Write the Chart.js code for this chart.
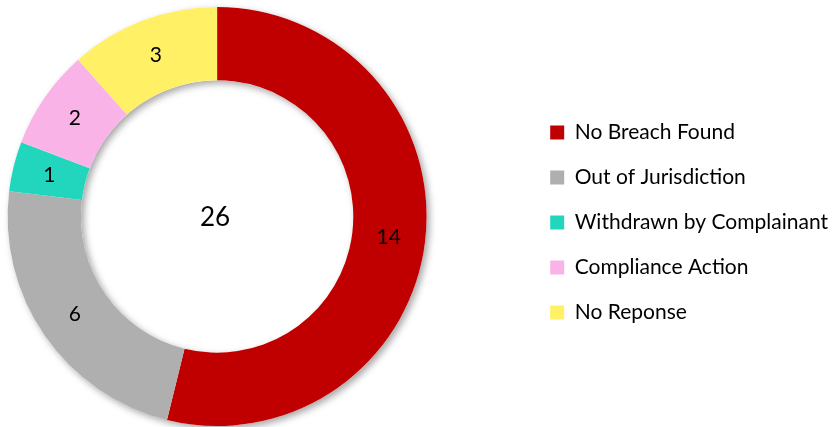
<!DOCTYPE html>
<html>
<head>
<meta charset="utf-8">
<script src="https://cdn.jsdelivr.net/npm/chart.js@4.4.0/dist/chart.umd.min.js"></script>
<style>
  html, body { margin: 0; padding: 0; background: #fff; overflow: hidden; }
  /* canvas iets breder en naar links, zodat de ring links staat */
  #wrap { position: absolute; top: 0; left: -92px; width: 930px; height: 427px; }
</style>
</head>
<body>
<div id="wrap"><canvas id="outcomeChart"></canvas></div>
<script>
// Categorieen en aantallen
var categories = ["No Breach Found", "Out of Jurisdiction", "Withdrawn by Complainant", "Compliance Action", "No Reponse"];
var counts = [14, 6, 1, 2, 3];
var sliceColors = ["#C00000", "#AFAFAF", "#22D6BE", "#F9B3E6", "#FFF066"];

var fontFamily = "Lato, 'Noto Sans', sans-serif";

// Schaduw onder de ring
var ringShadow = {
    id: "ringShadow",
    beforeDatasetsDraw: function (chart) {
        var arc = chart.getDatasetMeta(0).data[0];
        if (!arc) return;
        var ctx = chart.ctx;
        ctx.save();
        ctx.shadowColor = "rgba(0,0,0,0.35)";
        ctx.shadowBlur = 7;
        ctx.shadowOffsetX = 3;
        ctx.shadowOffsetY = 3;
        ctx.fillStyle = "#ffffff";
        ctx.beginPath();
        ctx.arc(arc.x, arc.y, arc.outerRadius, 0, Math.PI * 2, false);
        ctx.arc(arc.x, arc.y, arc.innerRadius, 0, Math.PI * 2, true);
        ctx.fill();
        ctx.restore();
    }
};

// Waarden in de segmenten en totaal in het midden
var valueLabels = {
    id: "valueLabels",
    afterDatasetsDraw: function (chart) {
        var ctx = chart.ctx;
        var meta = chart.getDatasetMeta(0);
        var values = chart.data.datasets[0].data;
        ctx.save();
        ctx.fillStyle = "#000";
        ctx.textAlign = "center";
        ctx.textBaseline = "middle";
        ctx.font = "21px " + fontFamily;
        meta.data.forEach(function (arc, i) {
            var p = arc.tooltipPosition();
            ctx.fillText(values[i], p.x, p.y);
        });
        var total = values.reduce(function (a, b) { return a + b; }, 0);
        var first = meta.data[0];
        ctx.font = "26px " + fontFamily;
        ctx.fillText(total, first.x - 2, first.y + 1);
        ctx.restore();
    }
};

var ctx = document.getElementById("outcomeChart").getContext("2d");
var chart = new Chart(ctx, {
    type: "doughnut",
    data: {
        labels: categories,
        datasets: [{
            data: counts,
            backgroundColor: sliceColors,
            borderWidth: 0
        }]
    },
    options: {
        responsive: true,
        maintainAspectRatio: false,
        animation: false,
        events: [],
        cutout: "65%",
        layout: {
            padding: { top: 7, bottom: 1, left: 0, right: 0 }
        },
        plugins: {
            tooltip: { enabled: false },
            legend: {
                position: "right",
                // lege titel om de legenda iets omlaag te zetten
                title: { display: true, text: "", font: { size: 10 }, padding: 0 },
                labels: {
                    boxWidth: 14,
                    boxHeight: 14,
                    padding: 24,
                    color: "#000",
                    font: { family: fontFamily, size: 21 }
                }
            }
        }
    },
    plugins: [ringShadow, valueLabels]
});
</script>
</body>
</html>
